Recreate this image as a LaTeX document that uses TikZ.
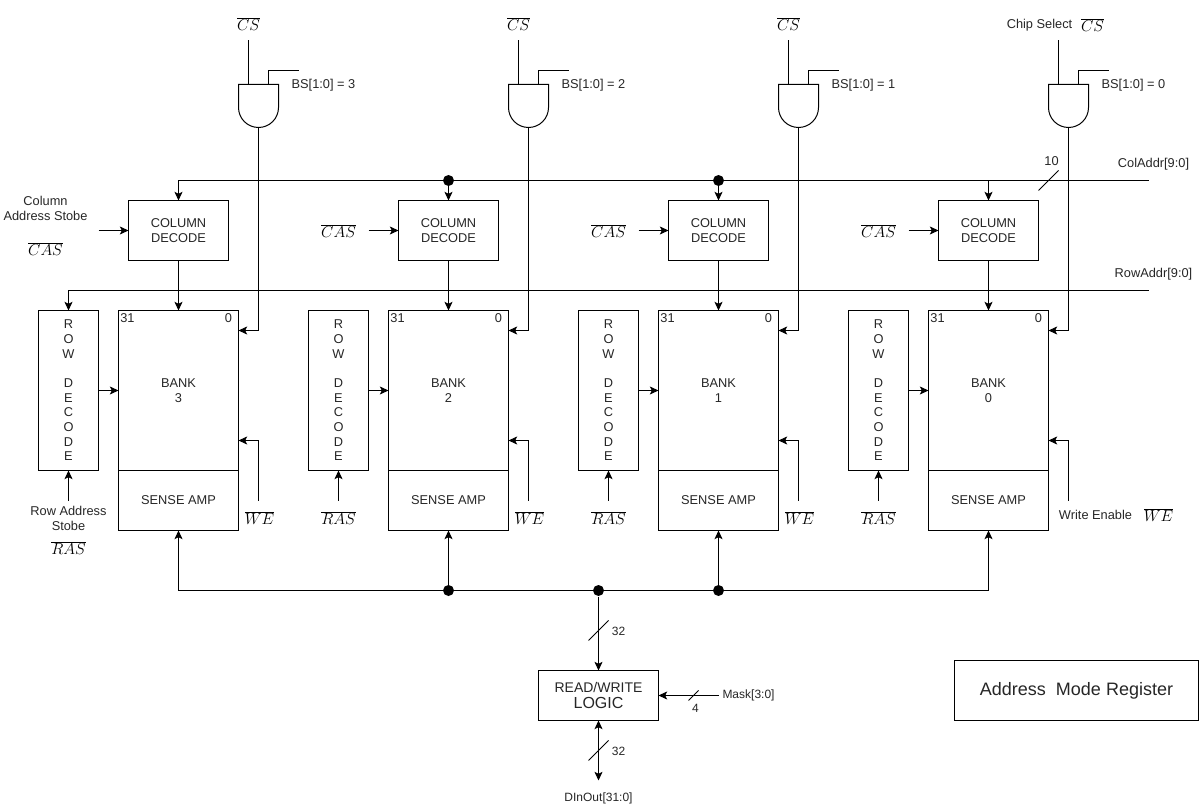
\documentclass[tikz,border=0pt]{standalone}
\usepackage{fontspec}
\usepackage{xcolor}
\usepackage{tikz}
\usetikzlibrary{positioning, arrows.meta, calc}
\setmainfont{Liberation Sans}
\definecolor{labelgray}{HTML}{262626}
\newcommand{\bustick}[2]{\draw (#1)+(-#2,#2) -- +(#2,-#2);}
\tikzset{
  box/.style={draw, inner sep=0pt, outer sep=0pt, align=center, text=labelgray},
  wire/.style={-{Stealth[length=6.5pt, width=6pt, inset=1.5pt]}},
  biwire/.style={{Stealth[length=6.5pt, width=6pt, inset=1.5pt]}-{Stealth[length=6.5pt, width=6pt, inset=1.5pt]}},
  busdot/.style={circle, fill=black, inner sep=0pt, minimum size=8.25pt},
  lbl/.style={inner sep=0pt, align=center, text=labelgray},
  sig/.style={inner sep=0pt, font=\fontsize{12}{14}\selectfont},
  small/.style={font=\fontsize{9}{11}\selectfont},
}
\begin{document}
\begin{tikzpicture}[x=0.75pt, y=-0.75pt, line width=0.75pt,
                    font=\fontsize{9.6}{11}\selectfont]
  \useasboundingbox (-0.5,-0.5) rectangle (1198.5,804.5);

  % one bank slice
  \foreach \b/\dx in {3/0, 2/270, 1/540, 0/810} {
    \node[box, minimum width=90pt, minimum height=120pt] (bank\b) at (178+\dx,390) {BANK\\[0.5pt]\b};
    \node[box, minimum width=90pt, minimum height=45pt, below=0pt of bank\b] (sense\b) {SENSE AMP};
    \node[box, minimum width=75pt, minimum height=45pt, above=37.5pt of bank\b] (coldec\b) {COLUMN\\DECODE};
    \node[box, minimum width=45pt, minimum height=120pt, left=15pt of bank\b] (rowdec\b) {R\\O\\W\\ \\D\\E\\C\\O\\D\\E};
    \node[lbl] (msb\b) at (127+\dx,318) {31};
    \node[lbl] (lsb\b) at (228+\dx,318) {0};

    % and gate
    \node[minimum width=30pt, minimum height=32.25pt, inner sep=0pt, outer sep=0pt] (gate\b) at (258+\dx,105.5) {};
    \draw (gate\b.north west) -- (gate\b.north east) -- ++(0,23)
      arc[start angle=0, end angle=-180, radius=15pt] -- cycle;
    \coordinate (csin\b) at (248+\dx,40);
    \coordinate (gatecs\b) at (248+\dx,84);
    \coordinate (bsin\b) at (298+\dx,70);
    \coordinate (gatebs\b) at (268+\dx,84);
    \draw (csin\b) -- (gatecs\b);
    \draw (gatebs\b) |- (bsin\b);
    \node[lbl] (bslabel\b) at (323+\dx,84.7) {BS[1:0] = \b};

    \coordinate (bankcs\b) at (238+\dx,330);
    \coordinate (bankwe\b) at (238+\dx,440);
    \coordinate (wein\b) at (258+\dx,500);
    \coordinate (rasin\b) at (68+\dx,500);
    \coordinate (colbus\b) at (178+\dx,180);
    \coordinate (databus\b) at (178+\dx,590);
    \draw[wire] (gate\b.south) |- (bankcs\b);
    \draw[wire] (wein\b) |- (bankwe\b);
    \draw[wire] (rasin\b) -- (rowdec\b);
    \draw[wire] (rowdec\b) -- (bank\b);
    \draw[wire] (coldec\b) -- (bank\b);
    \draw[wire] (colbus\b) -- (coldec\b);
    \draw[wire] (databus\b) -- (sense\b);
  }

  % signal names
  \foreach \b/\dx in {3/0, 2/270, 1/540} {
    \node[sig] (cs\b) at (248+\dx,23.3) {$\overline{CS}$};
    \node[sig] (we\b) at (259+\dx,517.3) {$\overline{WE}$};
  }
  \foreach \b/\dx in {2/0, 1/270, 0/540} {
    \node[sig] (cas\b) at (338+\dx,230.3) {$\overline{CAS}$};
    \coordinate (casin\b) at (368+\dx,230);
    \draw[wire] (casin\b) -- (coldec\b);
    \node[sig] (ras\b) at (338+\dx,517.3) {$\overline{RAS}$};
  }
  \node[lbl] (colstrobe) at (45,208) {Column\\Address Stobe};
  \node[sig] (cas3) at (45,248.3) {$\overline{CAS}$};
  \coordinate (casin3) at (98,230);
  \draw[wire] (casin3) -- (coldec3);
  \node[lbl] (rowstrobe) at (68,518) {Row Address\\Stobe};
  \node[sig] (ras3) at (68,547.3) {$\overline{RAS}$};
  \node[lbl] (chipsel) at (1039,24.7) {Chip Select};
  \node[sig] (cs0) at (1092,24.5) {$\overline{CS}$};
  \node[lbl] (wrenable) at (1095,514.5) {Write Enable};
  \node[sig] (we0) at (1158,514.5) {$\overline{WE}$};

  % buses
  \coordinate (colend) at (1148,180);
  \coordinate (rowend) at (1148,290);
  \draw (colbus3) -- (colend);
  \draw[wire] (rowend) -| (rowdec3);
  \draw (databus3) -- (databus0);
  \node[lbl] (coladdr) at (1153,163.5) {ColAddr[9:0]};
  \node[lbl] (rowaddr) at (1153,273.5) {RowAddr[9:0]};
  \node[busdot] (coldot2) at (colbus2) {};
  \node[busdot] (coldot1) at (colbus1) {};
  \node[busdot] (datadot2) at (databus2) {};
  \node[busdot] (datadot1) at (databus1) {};
  \coordinate (tickcol) at (1048,180);
  \bustick{tickcol}{10}
  \node[lbl] (colwidth) at (1051,160.5) {10};

  % read/write path
  \node[busdot] (datatap) at (598,590) {};
  \node[box, minimum width=90pt, minimum height=37.5pt] (rwlogic) at (598,695)
    {{\fontsize{10.5}{12.5}\selectfont READ/WRITE}\\[0.5pt]{\fontsize{12}{13}\selectfont LOGIC}};
  \coordinate (dinout) at (598,780);
  \coordinate (maskin) at (718,695);
  \draw[wire] (datatap) -- (rwlogic);
  \draw[biwire] (rwlogic) -- (dinout);
  \draw[wire] (maskin) -- (rwlogic);
  \coordinate (tickin) at (598,630);
  \coordinate (tickout) at (598,750);
  \coordinate (tickmask) at (693,695);
  \bustick{tickin}{10}
  \bustick{tickout}{10}
  \bustick{tickmask}{5}
  \node[lbl, small] (inwidth) at (618,630.5) {32};
  \node[lbl, small] (outwidth) at (618,750.5) {32};
  \node[lbl, small] (maskwidth) at (695,707.5) {4};
  \node[lbl, small] (masklabel) at (748,695) {Mask[3:0]};
  \node[lbl, small] (dinlabel) at (598,798) {DInOut[31:0]};

  \node[box, minimum width=183pt, minimum height=45pt, font=\fontsize{13.5}{16}\selectfont] (modereg) at (1076,690) {Address\ \ Mode Register};
\end{tikzpicture}
\end{document}
